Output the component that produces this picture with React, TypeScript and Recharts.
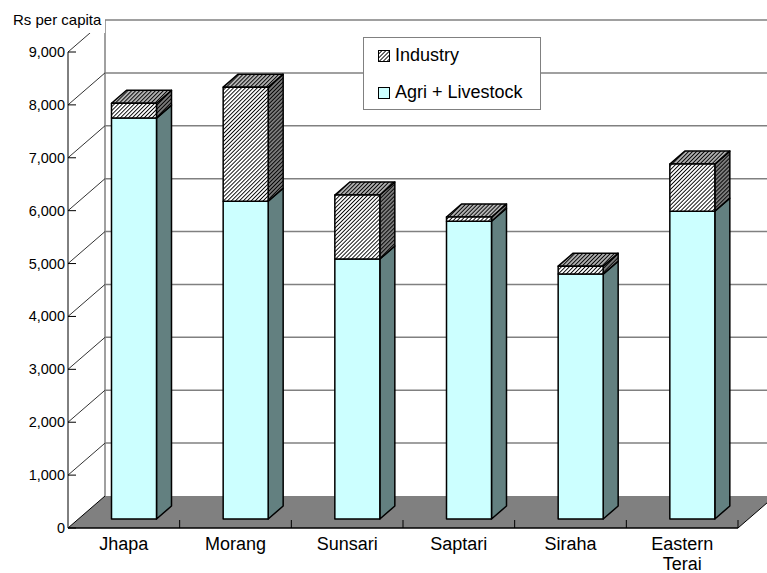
import { Bar, BarChart, CartesianGrid, XAxis, YAxis } from "recharts";

// districts of the Eastern Terai, Rs per capita
const regions = ["Jhapa", "Morang", "Sunsari", "Saptari", "Siraha", "Eastern Terai"];
const agriLivestock = [7580, 6010, 4915, 5630, 4630, 5820];
const industry = [280, 2155, 1210, 80, 150, 890];
const yTicks = [0, 1000, 2000, 3000, 4000, 5000, 6000, 7000, 8000, 9000];

const rows = regions.map((name, i) => ({
  name,
  agri: agriLivestock[i],
  industry: industry[i],
}));

const FONT = '"Liberation Sans", Arial, sans-serif';

// fake 3-D: how far the back wall sits behind the front plane
const WALL_DX = 37;
const WALL_DY = -32;
// bars stand a little way into the floor and are this deep
const BAR_DX = 10.5;
const BAR_DY = -9;
const SIDE_DX = 15;
const SIDE_DY = -13;

const AGRI_FRONT = "#ccffff";
const AGRI_SIDE = "#638080";
const HATCH = 2.8;

// one horizontal grid line -> back-wall line + diagonal on the left wall.
// the zero line also draws the floor and the back-left edge.
function WallLine(props: any) {
  const { x1, x2, y1, y, height } = props;
  const bottom = y + height;
  const onFloor = Math.abs(y1 - bottom) < 1;
  const bx = x1 + WALL_DX;
  if (onFloor) {
    return (
      <g>
        <polygon
          points={`${x1},${y1} ${x2},${y1} ${x2 + WALL_DX},${y1 + WALL_DY} ${bx},${y1 + WALL_DY}`}
          fill="#808080"
        />
        <line x1={bx} y1={y + WALL_DY} x2={bx} y2={bottom + WALL_DY} stroke="#808080" strokeWidth={1.5} />
        <line x1={x2} y1={y1} x2={x2 + WALL_DX} y2={y1 + WALL_DY} stroke="#000" strokeWidth={1} />
        <line x1={x1} y1={y1} x2={bx} y2={y1 + WALL_DY} stroke="#000" strokeWidth={1} />
      </g>
    );
  }
  return (
    <g>
      <line x1={bx} y1={y1 + WALL_DY} x2={x2 + WALL_DX} y2={y1 + WALL_DY} stroke="#808080" strokeWidth={1.5} />
      <line x1={x1} y1={y1} x2={bx} y2={y1 + WALL_DY} stroke="#333" strokeWidth={1} />
    </g>
  );
}

function boxFaces(x: number, y: number, w: number, h: number) {
  const fx = x + BAR_DX;
  const fy = y + BAR_DY;
  const side = `${fx + w},${fy + h} ${fx + w + SIDE_DX},${fy + h + SIDE_DY} ${fx + w + SIDE_DX},${fy + SIDE_DY} ${fx + w},${fy}`;
  const top = `${fx},${fy} ${fx + SIDE_DX},${fy + SIDE_DY} ${fx + w + SIDE_DX},${fy + SIDE_DY} ${fx + w},${fy}`;
  return { fx, fy, side, top };
}

function AgriBox(props: any) {
  const { x, y, width, height } = props;
  if (!height) return null;
  const { fx, fy, side } = boxFaces(x, y, width, height);
  return (
    <g stroke="#000" strokeWidth={1.5} strokeLinejoin="round">
      <polygon points={side} fill={AGRI_SIDE} />
      <rect x={fx} y={fy} width={width} height={height} fill={AGRI_FRONT} />
    </g>
  );
}

function IndustryBox(props: any) {
  const { x, y, width, height } = props;
  const { fx, fy, side, top } = boxFaces(x, y, width, height);
  return (
    <g stroke="#000" strokeWidth={1.5} strokeLinejoin="round">
      <polygon points={side} fill="url(#hatchSide)" />
      <polygon points={top} fill="url(#hatchTop)" />
      <rect x={fx} y={fy} width={width} height={height} fill="url(#hatchFront)" />
    </g>
  );
}

function HatchPattern({ id, bg }: { id: string; bg: string }) {
  return (
    <pattern id={id} width={HATCH} height={HATCH} patternUnits="userSpaceOnUse" patternTransform="rotate(45)">
      <rect width={HATCH} height={HATCH} fill={bg} />
      <rect width={0.9} height={HATCH} fill="#000" />
    </pattern>
  );
}

function YTick(props: any) {
  const { x, y, payload } = props;
  return (
    <g>
      <line x1={x + 3} y1={y} x2={x + 11} y2={y} stroke="#000" />
      <text x={x} y={y} dy={5} textAnchor="end" fontSize={14.5} fontFamily={FONT} fill="#000">
        {Number(payload.value).toLocaleString("en-US")}
      </text>
    </g>
  );
}

function XTick(props: any) {
  const { x, y, payload } = props;
  const label = String(payload.value);
  const lines = label.length > 8 ? label.split(" ") : [label];
  const edge = x + (payload.offset ?? 0);
  return (
    <g>
      <line x1={edge} y1={y} x2={edge} y2={y - 8} stroke="#000" />
      <text x={x} y={y} textAnchor="middle" fontSize={18} fontFamily={FONT} fill="#000">
        {lines.map((ln, i) => (
          <tspan key={i} x={x} dy={i === 0 ? 22 : 20}>
            {ln}
          </tspan>
        ))}
      </text>
    </g>
  );
}

// "Rs per capita" sits on a white patch that hides the wall corner
function UnitLabel(props: any) {
  const vb = props.viewBox ?? { x: 0, y: 52, width: 68 };
  return (
    <g>
      <rect x={0} y={0} width={vb.x + vb.width + WALL_DX} height={vb.y - 19} fill="#fff" />
      <text x={vb.x + 13} y={vb.y - 27} fontSize={15} fontFamily={FONT} fill="#000">
        Rs per capita
      </text>
    </g>
  );
}

function Swatch({ fill }: { fill: string }) {
  return (
    <svg width={12} height={12} style={{ position: "absolute", left: 14, top: -6 }}>
      <defs>
        <HatchPattern id="legendHatch" bg="#fff" />
      </defs>
      <rect x={0.5} y={0.5} width={11} height={11} fill={fill} stroke="#000" />
    </svg>
  );
}

function ChartLegend() {
  const items = [
    { label: "Industry", fill: "url(#legendHatch)", top: 18 },
    { label: "Agri + Livestock", fill: AGRI_FRONT, top: 55 },
  ];
  return (
    <div
      style={{
        position: "absolute",
        left: 363,
        top: 37,
        width: 176,
        height: 71,
        border: "1px solid #808080",
        background: "#fff",
        fontFamily: FONT,
        fontSize: 18,
      }}
    >
      {items.map((it) => (
        <div key={it.label} style={{ position: "absolute", left: 0, top: it.top, width: "100%" }}>
          <Swatch fill={it.fill} />
          <span style={{ position: "absolute", left: 31, top: -11, lineHeight: "20px", whiteSpace: "nowrap" }}>
            {it.label}
          </span>
        </div>
      ))}
    </div>
  );
}

export default function App() {
  return (
    <div
      style={{
        position: "absolute",
        left: 0,
        top: 0,
        width: 767,
        height: 573,
        overflow: "hidden",
        background: "#fff",
      }}
    >
      <BarChart
        width={767}
        height={573}
        data={rows}
        margin={{ top: 52, right: 29, bottom: 0, left: 0 }}
        barSize={45}
      >
        <defs>
          <HatchPattern id="hatchFront" bg="#fff" />
          <HatchPattern id="hatchTop" bg="#b0b0b0" />
          <HatchPattern id="hatchSide" bg="#7a7a7a" />
        </defs>
        <CartesianGrid vertical={false} horizontal={(p: any) => <WallLine {...p} />} />
        <XAxis
          dataKey="name"
          height={45}
          interval={0}
          axisLine={{ stroke: "#000", strokeWidth: 1.5 }}
          tickLine={false}
          tickSize={0}
          tickMargin={0}
          tick={(p: any) => <XTick {...p} />}
        />
        <YAxis
          type="number"
          domain={[0, 9000]}
          ticks={yTicks}
          interval={0}
          width={68}
          axisLine={{ stroke: "#000", strokeWidth: 1 }}
          tickLine={false}
          tickSize={0}
          tickMargin={3}
          tick={(p: any) => <YTick {...p} />}
          label={{ content: (p: any) => <UnitLabel {...p} /> }}
        />
        <Bar dataKey="agri" stackId="s" shape={(p: any) => <AgriBox {...p} />} isAnimationActive={false} />
        <Bar dataKey="industry" stackId="s" shape={(p: any) => <IndustryBox {...p} />} isAnimationActive={false} />
      </BarChart>
      <ChartLegend />
    </div>
  );
}
